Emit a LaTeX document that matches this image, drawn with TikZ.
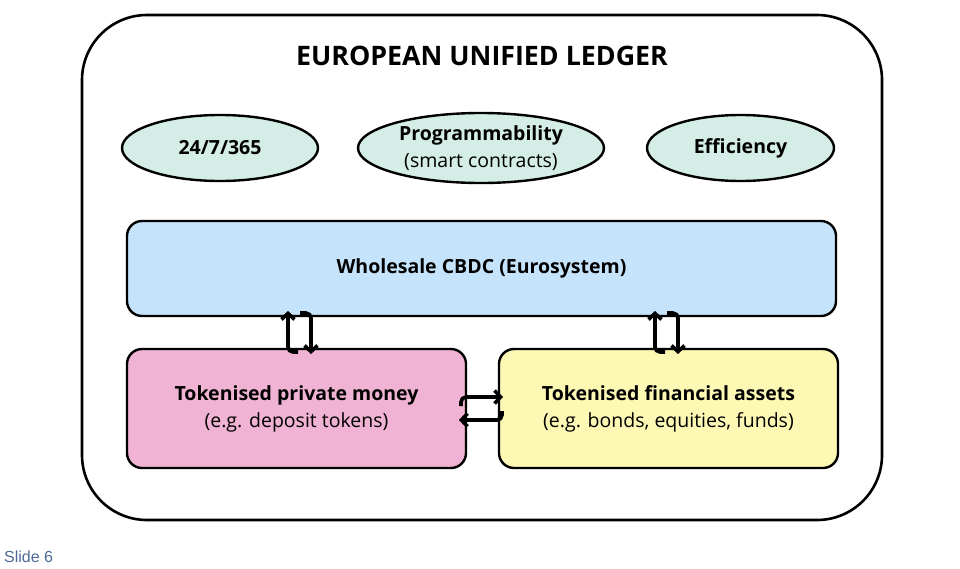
\documentclass[tikz,border=0pt]{standalone}
\usepackage{fontspec}
\setmainfont{Open Sans}
\newfontfamily\slidefont{Liberation Sans}
\usetikzlibrary{shapes.geometric,arrows.meta}
\definecolor{ledgerteal}{HTML}{D4EDE6}
\definecolor{cbdcblue}{HTML}{C5E4FB}
\definecolor{moneypink}{HTML}{F0B3D3}
\definecolor{assetyellow}{HTML}{FDF8B4}
\definecolor{slidegrey}{HTML}{4D6A96}
\begin{document}
\begin{tikzpicture}[x=1pt,y=-1pt,
   feature/.style={ellipse,draw,line width=2.4pt,fill=ledgerteal,inner sep=0pt,
      align=center,font=\fontsize{19.5}{27}\selectfont},
   layer/.style={rectangle,draw,line width=2.4pt,rounded corners=15pt,inner sep=0pt,
      align=center,font=\fontsize{19.5}{27}\selectfont},
   swap/.style={line width=3.6pt,rounded corners=5pt,-{Straight Barb[length=6pt,width=13pt]}}]
   \useasboundingbox (0,0) rectangle (960,568);
   % outer ledger frame
   \node[draw,line width=2.6pt,rounded corners=65pt,minimum width=800pt,minimum height=505pt] (ledger) at (482,267.5) {};
   \node[font=\bfseries\fontsize{26.8}{30}\selectfont] (title) at (482,56) {EUROPEAN UNIFIED LEDGER};
   % features
   \node[feature,minimum width=196pt,minimum height=66pt] (always) at (220,148) {\textbf{24/7/365}};
   \node[feature,minimum width=246pt,minimum height=70pt] (prog) at (481,148) {\textbf{Programmability}\\(smart contracts)};
   \node[feature,minimum width=187pt,minimum height=66pt] (effic) at (740.5,148) {\textbf{Efficiency}};
   % layers
   \node[layer,fill=cbdcblue,minimum width=709pt,minimum height=95pt] (cbdc) at (481.5,268.5) {\textbf{Wholesale CBDC (Eurosystem)}};
   \node[layer,fill=moneypink,minimum width=339pt,minimum height=119pt] (money) at (296.5,408.5) {\textbf{Tokenised private money}\\(e.g. deposit tokens)};
   \node[layer,fill=assetyellow,minimum width=339pt,minimum height=119pt] (assets) at (668.5,408.5) {\textbf{Tokenised financial assets}\\(e.g. bonds, equities, funds)};
   % swaps
   \draw[swap] (298,352) -- (288,352) -- (288,311);
   \draw[swap] (300,313) -- (311,313) -- (311,354);
   \draw[swap] (665,352) -- (655,352) -- (655,311);
   \draw[swap] (667,313) -- (678,313) -- (678,354);
   \draw[swap] (461,406) -- (461,397) -- (503,397);
   \draw[swap] (502,411) -- (502,420) -- (459,420);
   \node[anchor=west,inner sep=0pt,text=slidegrey,font=\slidefont\fontsize{16}{18}\selectfont] (slide) at (4,557) {Slide 6};
\end{tikzpicture}
\end{document}
